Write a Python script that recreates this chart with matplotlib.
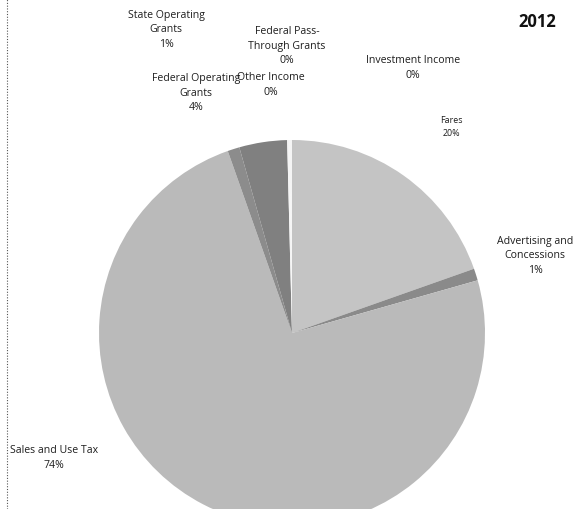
"""
2012 revenue sources pie chart (scanned report figure).
"""

import matplotlib.pyplot as plt

# ============================================================
# Data (clockwise from 12 o'clock)
# ============================================================

labels = [
    "Fares",
    "Advertising and\nConcessions",
    "Sales and Use Tax",
    "State Operating\nGrants",
    "Federal Operating\nGrants",
    "Federal Pass-\nThrough Grants",
    "Other Income",
    "Investment Income",
]
shares = [19.6, 1.0, 74.0, 1.0, 4.0, 0.2, 0.1, 0.1]
pct_text = ["20%", "1%", "74%", "1%", "4%", "0%", "0%", "0%"]
colors = ["#c4c4c4", "#8a8a8a", "#bababa", "#8c8c8c",
          "#808080", "#f4f4f4", "#f4f4f4", "#f4f4f4"]

# label anchor points in pixels (x from left, y from top)
label_pos = [
    (451, 127),
    (535, 256),
    (54, 458),
    (166, 30),
    (196, 93),
    (287, 46),
    (271, 85),
    (413, 68),
]

W, H = 581, 510

# ============================================================
# Figure
# ============================================================

plt.rcParams["font.family"] = ["Open Sans", "DejaVu Sans"]

fig = plt.figure(figsize=(W / 100, H / 100), dpi=100)
ax = fig.add_axes([0, 0, 1, 1])
ax.axis("off")

# pie centre / radius in pixel space (y measured upward)
ax.pie(shares, colors=colors, startangle=90, counterclock=False,
       center=(292, H - 334), radius=193,
       wedgeprops=dict(linewidth=0))
ax.set_xlim(0, W)
ax.set_ylim(0, H)
ax.set_aspect("equal")

for lab, pct, (x, y) in zip(labels, pct_text, label_pos):
    size = 6.4 if lab == "Fares" else 7.6
    ax.text(x, H - y, lab + "\n" + pct, ha="center", va="center",
            fontsize=size, color="#1e1e1e", linespacing=1.45)

ax.text(537, H - 22, "2012", ha="center", va="center",
        fontsize=12, fontweight="bold", color="#111111")

# dotted left border of the chart box
ax.axvline(7, color="#555555", linestyle=(0, (1, 1.5)), linewidth=0.8)

fig.savefig("out.png", dpi=100)
